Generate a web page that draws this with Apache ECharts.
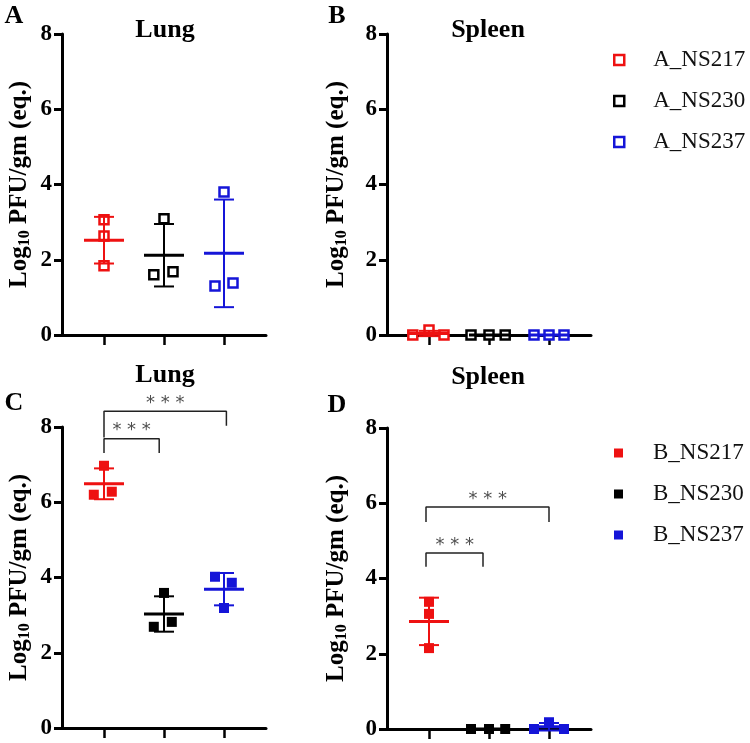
<!DOCTYPE html>
<html>
<head>
<meta charset="utf-8">
<script src="https://cdn.jsdelivr.net/npm/echarts@6/dist/echarts.min.js"></script>
<style>
  html, body { margin: 0; padding: 0; background: #fff; }
  #chart { width: 750px; height: 743px; }
</style>
</head>
<body>
<div id="chart"></div>
<script>
// ---- data ----
const groupColors = ['#ee1111', '#000000', '#1515d8'];
const namesA = ['A_NS217', 'A_NS230', 'A_NS237'];
const namesB = ['B_NS217', 'B_NS230', 'B_NS237'];

// Panel A - Lung, A strains (log10 PFU/gm)
const lungA_values = [[3.06, 2.63, 1.84], [3.09, 1.60, 1.68], [3.80, 1.30, 1.38]];
const lungA_jitter = [[0, 0, 0], [0, -0.17, 0.15], [0, -0.15, 0.15]];
const lungA_mean = [2.52, 2.12, 2.17];
const lungA_sd = [0.62, 0.83, 1.43];

// Panel B - Spleen, A strains
const spleenA_values = [[0, 0.13, 0], [0, 0, 0], [0, 0, 0]];
const spleenA_jitter = [[-0.27, 0, 0.25], [-0.3, 0, 0.27], [-0.25, 0, 0.25]];
const spleenA_mean = [0.04, 0, 0];
const spleenA_sd = [0.07, 0, 0];

// Panel C - Lung, B strains
const lungB_values = [[6.97, 6.20, 6.28], [3.59, 2.69, 2.82], [4.02, 3.86, 3.19]];
const lungB_jitter = [[0, -0.17, 0.13], [0, -0.17, 0.13], [-0.15, 0.13, 0]];
const lungB_mean = [6.49, 3.03, 3.69];
const lungB_sd = [0.41, 0.47, 0.43];

// Panel D - Spleen, B strains
const spleenB_values = [[3.38, 3.06, 2.15], [0, 0, 0], [0, 0.18, 0]];
const spleenB_jitter = [[0, 0, 0], [-0.3, 0, 0.27], [-0.25, 0, 0.25]];
const spleenB_mean = [2.86, 0, 0.06];
const spleenB_sd = [0.63, 0, 0.1];

// significance brackets (x = group index, y = log10 value)
const bracketC1 = [[1, 7.31], [1, 7.69], [1.92, 7.69], [1.92, 7.31]];
const bracketC2 = [[1, 7.72], [1, 8.42], [3.04, 8.42], [3.04, 8.03]];
const bracketD1 = [[0.95, 4.31], [0.95, 4.68], [1.9, 4.68], [1.9, 4.31]];
const bracketD2 = [[0.95, 5.5], [0.95, 5.9], [3.0, 5.9], [3.0, 5.5]];
const starsC = [[1.46, 7.69], [2.02, 8.42]];
const starsD = [[1.43, 4.68], [1.98, 5.9]];

const yTicks = [0, 2, 4, 6, 8];

// ---- helpers ----
const SERIF = '"Liberation Serif", "Times New Roman", serif';

function renderErr(params, api) {
  const x = api.value(0), m = api.value(1), s = api.value(2);
  const c = api.coord([x, m]);
  const t = api.coord([x, m + s]);
  const b = api.coord([x, m - s]);
  const color = api.visual('color');
  const thin = { stroke: color, lineWidth: 2 };
  return {
    type: 'group',
    children: [
      { type: 'line', shape: { x1: c[0], y1: t[1], x2: c[0], y2: b[1] }, style: thin },
      { type: 'line', shape: { x1: c[0] - 10, y1: t[1], x2: c[0] + 10, y2: t[1] }, style: thin },
      { type: 'line', shape: { x1: c[0] - 10, y1: b[1], x2: c[0] + 10, y2: b[1] }, style: thin },
      { type: 'line', shape: { x1: c[0] - 20, y1: c[1], x2: c[0] + 20, y2: c[1] }, style: { stroke: color, lineWidth: 3 } }
    ]
  };
}

function panelSeries(gi, names, values, jitter, mean, sd, hollow) {
  const out = [];
  values.forEach((vals, g) => {
    out.push({
      name: names[g], type: 'custom', xAxisIndex: gi, yAxisIndex: gi,
      renderItem: renderErr, encode: { x: 0, y: 1 },
      itemStyle: { color: groupColors[g] }, z: 4,
      data: [[g + 1, mean[g], sd[g]]]
    });
    out.push({
      name: names[g], type: 'scatter', xAxisIndex: gi, yAxisIndex: gi,
      symbol: 'rect', symbolSize: hollow ? 9 : 10, clip: false, z: 3,
      itemStyle: hollow
        ? { color: '#fff', borderColor: groupColors[g], borderWidth: 2.5, opacity: 1 }
        : { color: groupColors[g], opacity: 1 },
      data: vals.map((v, i) => [g + 1 + jitter[g][i], v])
    });
  });
  return out;
}

function bracket(gi, pts) {
  return {
    type: 'line', xAxisIndex: gi, yAxisIndex: gi, data: pts, symbol: 'none',
    clip: false, silent: true, z: 2,
    lineStyle: { color: '#222', width: 1.5 }
  };
}

function stars(gi, pts) {
  return {
    type: 'scatter', xAxisIndex: gi, yAxisIndex: gi, data: pts, symbolSize: 0,
    clip: false, silent: true,
    label: {
      show: true, position: 'top', distance: -1, formatter: '* * *',
      fontFamily: '"DejaVu Sans", sans-serif', fontSize: 18, color: '#222'
    }
  };
}

const grids = [
  { left: 62, top: 34, width: 204, height: 301 },
  { left: 387, top: 34, width: 204, height: 301 },
  { left: 62, top: 427, width: 204, height: 301 },
  { left: 387, top: 428, width: 204, height: 301 }
];
const nameGaps = [29, 37, 29, 37];

const xAxes = grids.map((g, i) => ({
  type: 'value', gridIndex: i, min: 0.3, max: 3.7,
  axisLine: { show: true, onZero: false, lineStyle: { color: '#000', width: 3 } },
  axisTick: { show: true, customValues: [1, 2, 3], length: 10, lineStyle: { color: '#000', width: 2.5 } },
  axisLabel: { show: false },
  splitLine: { show: false }
}));

const yAxes = grids.map((g, i) => ({
  type: 'value', gridIndex: i, min: 0, max: 8, interval: 2,
  name: '{b|Log}{s|10}{b| PFU/gm (eq.)}',
  nameLocation: 'middle', nameGap: nameGaps[i],
  nameTextStyle: {
    color: '#000',
    rich: {
      b: { fontFamily: SERIF, fontWeight: 'bold', fontSize: 25, color: '#000' },
      s: { fontFamily: SERIF, fontWeight: 'bold', fontSize: 16, color: '#000', padding: [10, 0, 0, 0] }
    }
  },
  axisLine: { show: true, lineStyle: { color: '#000', width: 3 } },
  axisTick: { show: true, length: 8, lineStyle: { color: '#000', width: 3 } },
  axisLabel: {
    color: '#000', fontFamily: SERIF, fontWeight: 'bold', fontSize: 23, margin: 10,
    formatter: v => (yTicks.indexOf(v) >= 0 ? String(v) : '')
  },
  splitLine: { show: false }
}));

function legendData(names, hollow) {
  return names.map((n, g) => ({
    name: n, icon: 'rect',
    itemStyle: hollow
      ? { color: '#fff', borderColor: groupColors[g], borderWidth: 2.5, opacity: 1 }
      : { color: groupColors[g], borderWidth: 0, opacity: 1 }
  }));
}

function txt(text, x, y, size, bold) {
  return {
    type: 'text', x: x, y: y,
    style: {
      text: text, fill: '#000', align: 'center', verticalAlign: 'middle',
      font: (bold ? 'bold ' : '') + size + 'px ' + SERIF
    }
  };
}

const chart = echarts.init(document.getElementById('chart'), null, { renderer: 'canvas' });
chart.setOption({
  backgroundColor: '#fff',
  animation: false,
  grid: grids,
  xAxis: xAxes,
  yAxis: yAxes,
  legend: [
    {
      orient: 'vertical', left: 608, top: 42, itemWidth: 10, itemHeight: 10, itemGap: 15,
      data: legendData(namesA, true), selectedMode: false,
      textStyle: { fontFamily: SERIF, fontSize: 23, color: '#111', lineHeight: 26, padding: [0, 0, 0, 24] }
    },
    {
      orient: 'vertical', left: 609, top: 435, itemWidth: 9, itemHeight: 9, itemGap: 15,
      data: legendData(namesB, false), selectedMode: false,
      textStyle: { fontFamily: SERIF, fontSize: 23, color: '#111', lineHeight: 26, padding: [0, 0, 0, 25] }
    }
  ],
  graphic: [
    txt('A', 14, 16, 26, true),
    txt('B', 337, 16, 26, true),
    txt('C', 14, 403, 26, true),
    txt('D', 337, 405, 26, true),
    txt('Lung', 165, 30, 26, true),
    txt('Spleen', 488, 30, 26, true),
    txt('Lung', 165, 375, 26, true),
    txt('Spleen', 488, 377, 26, true)
  ],
  series: [
    ...panelSeries(0, namesA, lungA_values, lungA_jitter, lungA_mean, lungA_sd, true),
    ...panelSeries(1, namesA, spleenA_values, spleenA_jitter, spleenA_mean, spleenA_sd, true),
    ...panelSeries(2, namesB, lungB_values, lungB_jitter, lungB_mean, lungB_sd, false),
    ...panelSeries(3, namesB, spleenB_values, spleenB_jitter, spleenB_mean, spleenB_sd, false),
    bracket(2, bracketC1), bracket(2, bracketC2), stars(2, starsC),
    bracket(3, bracketD1), bracket(3, bracketD2), stars(3, starsD)
  ]
});
</script>
</body>
</html>
